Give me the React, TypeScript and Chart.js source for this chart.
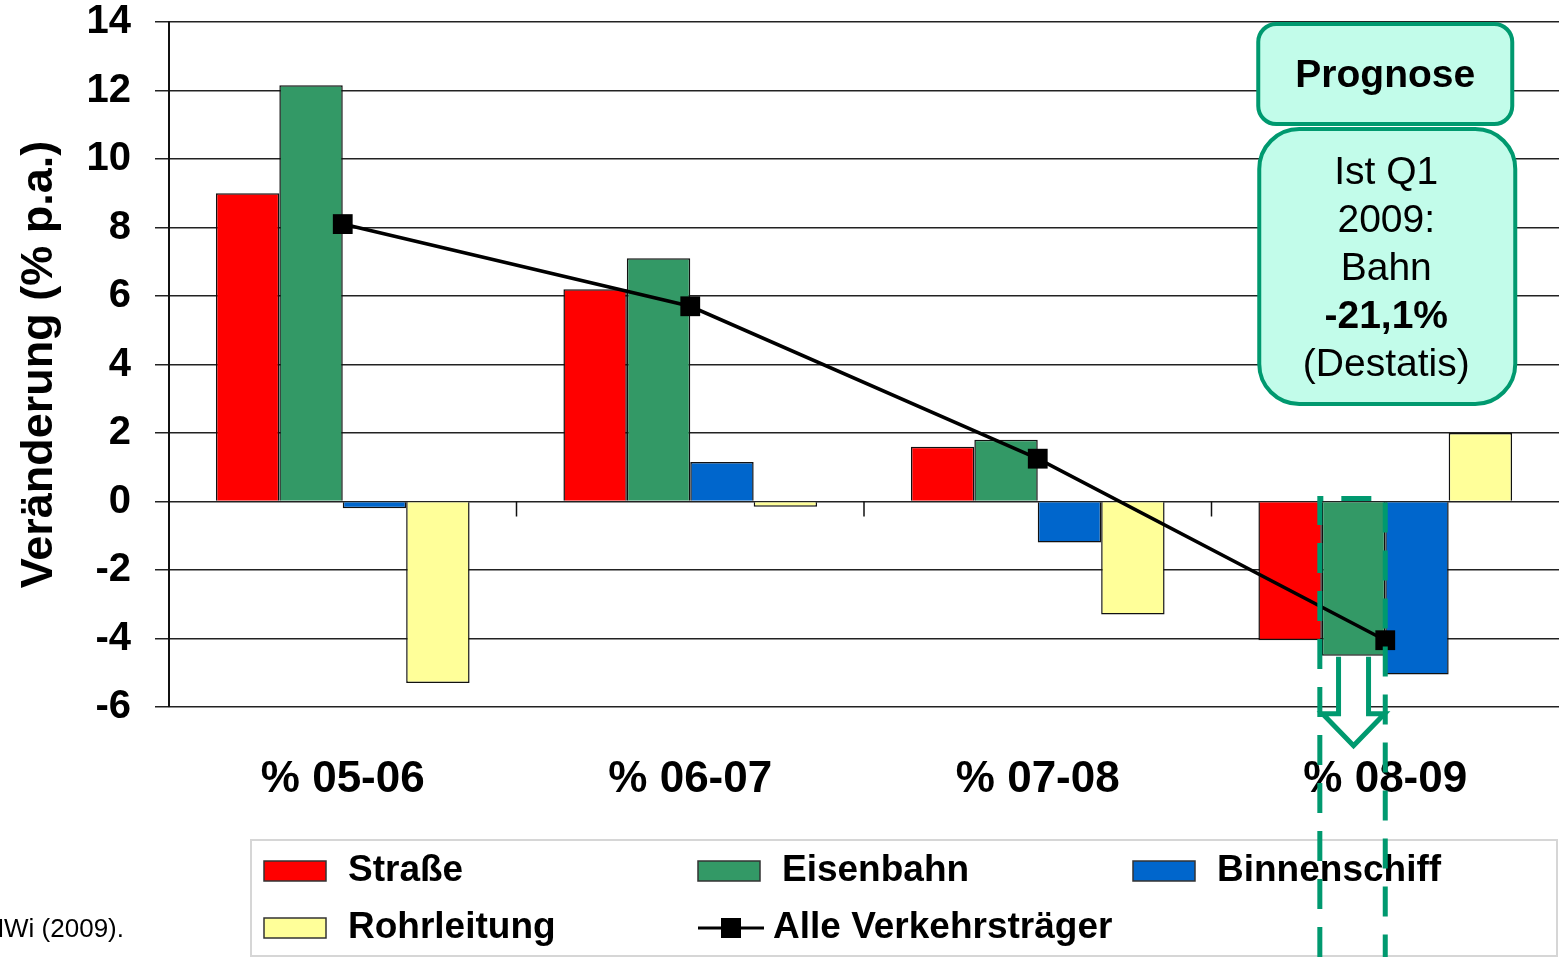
import { useEffect, useRef } from 'react';
import { Chart, registerables } from 'chart.js';

Chart.register(...registerables);

// ---- data ----
const categories = ['% 05-06', '% 06-07', '% 07-08', '% 08-09'];
const strasse = [9.0, 6.2, 1.6, -4.05];
const eisenbahn = [12.15, 7.1, 1.8, -4.5];
const binnenschiff = [-0.2, 1.15, -1.2, -5.05];
const rohrleitung = [-5.3, -0.15, -3.3, 2.0];
const alleVerkehrstraeger = [8.1, 5.7, 1.25, -4.05];
const seriesLabels = ['Straße', 'Eisenbahn', 'Binnenschiff', 'Rohrleitung', 'Alle Verkehrsträger'];
const yMin = -6;
const yMax = 14;
const yStep = 2;
const yTitle = 'Veränderung (% p.a.)';
const prognoseLabel = 'Prognose';
const noteLines = ['Ist Q1', '2009:', 'Bahn', '-21,1%', '(Destatis)'];
const sourceText = 'BMWi (2009).';

const FONT = "'Liberation Sans', Arial, sans-serif";
const GREEN_ANN = '#00996f';
const MINT = '#c2fcea';

const boundaryTicksPlugin = {
  id: 'boundaryTicks',
  afterDatasetsDraw(chart: any) {
    const { ctx, scales } = chart;
    const x = scales.x;
    const y0 = scales.y.getPixelForValue(0);
    ctx.save();
    ctx.strokeStyle = '#111';
    ctx.lineWidth = 1.5;
    for (let i = 0; i < categories.length - 1; i++) {
      const bx = (x.getPixelForValue(i) + x.getPixelForValue(i + 1)) / 2;
      ctx.beginPath();
      ctx.moveTo(bx, y0);
      ctx.lineTo(bx, y0 + 15);
      ctx.stroke();
    }
    ctx.restore();
  },
};

const overlayPlugin = {
  id: 'overlay',
  afterDraw(chart: any) {
    const { ctx, scales } = chart;
    ctx.save();

    // source text (clipped at the left edge)
    ctx.fillStyle = '#000';
    ctx.font = `26px ${FONT}`;
    ctx.textAlign = 'right';
    ctx.textBaseline = 'middle';
    ctx.fillText(sourceText, 124, 930);

    // legend box
    ctx.strokeStyle = '#d6d6d6';
    ctx.lineWidth = 2;
    ctx.strokeRect(251, 840, 1306, 116);
    const items = [
      { ds: 0, x: 264, y: 871 },
      { ds: 1, x: 698, y: 871 },
      { ds: 2, x: 1133, y: 871 },
      { ds: 3, x: 264, y: 928 },
      { ds: 4, x: 698, y: 928 },
    ];
    ctx.font = `bold 37px ${FONT}`;
    ctx.textAlign = 'left';
    ctx.textBaseline = 'middle';
    items.forEach((it) => {
      const ds = chart.data.datasets[it.ds];
      if (ds.type === 'line') {
        ctx.strokeStyle = '#000';
        ctx.lineWidth = 3;
        ctx.beginPath();
        ctx.moveTo(it.x, it.y);
        ctx.lineTo(it.x + 66, it.y);
        ctx.stroke();
        ctx.fillStyle = '#000';
        ctx.fillRect(it.x + 23, it.y - 10, 20, 20);
        ctx.fillText(ds.label, it.x + 75, it.y);
      } else {
        ctx.fillStyle = ds.backgroundColor;
        ctx.fillRect(it.x, it.y - 10, 62, 20);
        ctx.strokeStyle = '#333';
        ctx.lineWidth = 1.5;
        ctx.strokeRect(it.x, it.y - 10, 62, 20);
        ctx.fillStyle = '#000';
        ctx.fillText(ds.label, it.x + 84, it.y);
      }
    });

    // annotation boxes
    const cx = scales.x.getPixelForValue(3);
    ctx.lineWidth = 4;
    ctx.strokeStyle = GREEN_ANN;
    ctx.fillStyle = MINT;
    ctx.beginPath();
    ctx.roundRect(cx - 127, 24, 254, 100, 18);
    ctx.fill();
    ctx.stroke();
    ctx.beginPath();
    ctx.roundRect(cx - 126, 129, 256, 275, 40);
    ctx.fill();
    ctx.stroke();

    ctx.fillStyle = '#000';
    ctx.textAlign = 'center';
    ctx.textBaseline = 'middle';
    ctx.font = `bold 39px ${FONT}`;
    ctx.fillText(prognoseLabel, cx, 76);
    noteLines.forEach((t, i) => {
      ctx.font = (i === 3 ? 'bold ' : '') + `39px ${FONT}`;
      ctx.fillText(t, cx + 1, 173 + i * 48);
    });

    // dashed outline around rail bar + arrow
    const bar = chart.getDatasetMeta(1).data[3].getProps(['x', 'y', 'width', 'base'], true);
    const left = bar.x - bar.width / 2 - 2;
    const right = bar.x + bar.width / 2;
    const top = scales.y.getPixelForValue(0) - 3;
    ctx.strokeStyle = GREEN_ANN;
    ctx.lineWidth = 5;
    ctx.setLineDash([30, 18]);
    ctx.beginPath();
    ctx.moveTo(left, 957);
    ctx.lineTo(left, top);
    ctx.lineTo(right, top);
    ctx.lineTo(right, 957);
    ctx.stroke();
    ctx.setLineDash([]);

    const ax = bar.x;
    const aTop = bar.y + 1;
    ctx.lineWidth = 5;
    ctx.fillStyle = '#fff';
    ctx.beginPath();
    ctx.moveTo(ax - 15, aTop);
    ctx.lineTo(ax - 15, aTop + 57);
    ctx.lineTo(ax - 31, aTop + 57);
    ctx.lineTo(ax, aTop + 89);
    ctx.lineTo(ax + 31, aTop + 57);
    ctx.lineTo(ax + 15, aTop + 57);
    ctx.lineTo(ax + 15, aTop);
    ctx.fill();
    ctx.stroke();

    ctx.restore();
  },
};

export default function App() {
  const ref = useRef<HTMLCanvasElement | null>(null);

  useEffect(() => {
    if (!ref.current) return;
    Chart.defaults.font.family = FONT;
    const barCommon = {
      type: 'bar' as const,
      borderColor: '#111',
      borderWidth: 1.5,
      categoryPercentage: 0.73,
      barPercentage: 1.0,
      order: 1,
    };
    const chart = new Chart(ref.current, {
      type: 'bar',
      data: {
        labels: categories,
        datasets: [
          { ...barCommon, label: seriesLabels[0], data: strasse, backgroundColor: '#ff0000' },
          { ...barCommon, label: seriesLabels[1], data: eisenbahn, backgroundColor: '#339966' },
          { ...barCommon, label: seriesLabels[2], data: binnenschiff, backgroundColor: '#0066cc' },
          { ...barCommon, label: seriesLabels[3], data: rohrleitung, backgroundColor: '#ffff99' },
          {
            type: 'line',
            label: seriesLabels[4],
            data: alleVerkehrstraeger,
            borderColor: '#000',
            borderWidth: 3.5,
            backgroundColor: '#000',
            pointStyle: 'rect',
            pointRadius: 14,
            pointBackgroundColor: '#000',
            pointBorderWidth: 0,
            tension: 0,
            order: 0,
          } as any,
        ],
      },
      options: {
        responsive: false,
        animation: false,
        layout: { autoPadding: false, padding: { top: 22, right: 0, bottom: 0, left: 0 } },
        plugins: { legend: { display: false }, tooltip: { enabled: false } },
        scales: {
          x: {
            offset: true,
            grid: { display: false },
            border: { display: false },
            ticks: {
              color: '#000',
              padding: 43,
              font: { size: 44, weight: 'bold', lineHeight: 1 },
            },
            afterFit: (s: any) => {
              s.height = 250;
              s.paddingLeft = 0;
              s.paddingRight = 0;
            },
          },
          y: {
            min: yMin,
            max: yMax,
            ticks: {
              stepSize: yStep,
              color: '#000',
              padding: 24,
              font: { size: 40, weight: 'bold', lineHeight: 1 },
            },
            grid: { color: '#222', lineWidth: 1.5, tickLength: 14, drawTicks: true },
            border: { display: true, color: '#111', width: 2 },
            title: {
              display: true,
              text: yTitle,
              color: '#000',
              font: { size: 45, weight: 'bold', lineHeight: 1.2 },
              padding: { top: 13, bottom: 0 },
            },
            afterFit: (s: any) => {
              s.width = 169;
              s.paddingTop = 0;
              s.paddingBottom = 0;
            },
          },
        },
      },
      plugins: [boundaryTicksPlugin, overlayPlugin],
    } as any);
    return () => chart.destroy();
  }, []);

  return (
    <div style={{ position: 'fixed', left: 0, top: 0, width: 1559, height: 957, background: '#fff' }}>
      <canvas ref={ref} width={1559} height={957} style={{ display: 'block' }} />
    </div>
  );
}
